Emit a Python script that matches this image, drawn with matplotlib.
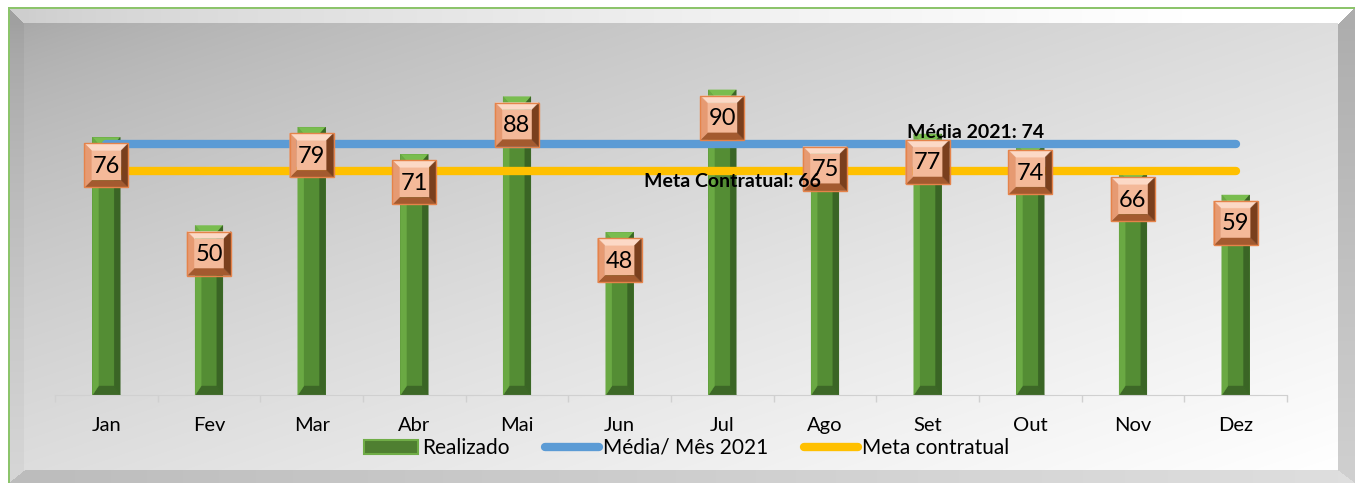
import numpy as np
import matplotlib.pyplot as plt
from matplotlib.patches import Polygon, Patch
from matplotlib.lines import Line2D
from matplotlib.transforms import IdentityTransform

# dados
meses = ["Jan", "Fev", "Mar", "Abr", "Mai", "Jun", "Jul", "Ago", "Set", "Out", "Nov", "Dez"]
realizado = [76, 50, 79, 71, 88, 48, 90, 75, 77, 74, 66, 59]
media_2021 = [74] * 12
meta_contratual = [66] * 12

plt.rcParams['font.family'] = ['Lato', 'DejaVu Sans']

W, H = 1355, 483
fig = plt.figure(figsize=(W / 100, H / 100), dpi=100)
fig.patch.set_facecolor('white')

# fundo com moldura em relevo
yy, xx = np.mgrid[0:H, 0:W].astype(float)
ox0, oy0, ox1, oy1 = 8, 7, W, H
ix0, iy0, ix1, iy1 = 24, 23, 1338, 470
u = np.clip((xx - ix0) / (ix1 - ix0), 0, 1)
v = np.clip((yy - iy0) / (iy1 - iy0), 0, 1)
g = 168 + 87 * ((u + v) / 2) ** 0.7
dt, dl, dr, db = yy - oy0, xx - ox0, (ox1 - xx) * 16 / 17, (oy1 - yy) * 16 / 13
inside_outer = (xx >= ox0) & (yy >= oy0)
inside_inner = (xx >= ix0) & (xx < ix1) & (yy >= iy0) & (yy < iy1)
ring = inside_outer & ~inside_inner
d = np.stack([dt, dl, dr, db])
side = np.argmin(d, axis=0)
shift = np.array([38, -8, -48, -33])
g = np.where(ring, g + shift[side], g)
g = np.where(inside_outer, g, 255)
g = np.clip(g, 0, 255) / 255
img = np.dstack([g, g, g])
green = np.array([0.55, 0.77, 0.42])
img[oy0:oy0 + 2, ox0:, :] = green
img[oy0:, ox0:ox0 + 2, :] = green
fig.figimage(img, xo=0, yo=0, origin='upper', zorder=-10)

ax = fig.add_axes([55 / W, (H - 395) / H, 1232 / W, 339 / H])
ax.patch.set_alpha(0)
x = np.arange(len(meses))
bw = 0.27
ax.set_xlim(-0.5, 11.5)
ax.set_ylim(0, 100)

ax.bar(x, realizado, width=bw, color='#548d34', zorder=2)


def bevel(x0, y0, x1, y1, b, face, top, left, right, bottom, z, tb=None, bb=None):
    tb = b if tb is None else tb
    bb = b if bb is None else bb
    BL, BR, TR, TL = (x0, y0), (x1, y0), (x1, y1), (x0, y1)
    bl, br, tr, tl = (x0 + b, y0 + bb), (x1 - b, y0 + bb), (x1 - b, y1 - tb), (x0 + b, y1 - tb)
    parts = [([bl, br, tr, tl], face), ([TL, TR, tr, tl], top), ([BL, BR, br, bl], bottom),
             ([BL, TL, tl, bl], left), ([BR, TR, tr, br], right)]
    for pts, c in parts:
        ax.add_patch(Polygon(pts, closed=True, facecolor=c, edgecolor=c, lw=0.3,
                             transform=IdentityTransform(), zorder=z, clip_on=False))


# relevo das barras
for i, val in zip(x, realizado):
    x0, y0 = ax.transData.transform((i - bw / 2, 0))
    x1, y1 = ax.transData.transform((i + bw / 2, val))
    bevel(x0, y0, x1, y1, 6, '#548d34', '#79bd4f', '#6aa943', '#3a6525', '#3d6827', 2.5, tb=7, bb=9)

# linhas de média e meta
ax.plot(x, media_2021, color='#5b9bd5', lw=6, solid_capstyle='round', zorder=4)
ax.plot(x, meta_contratual, color='#ffc000', lw=6, solid_capstyle='round', zorder=4)

# rótulos das barras
for i, val in zip(x, realizado):
    cx, ty = ax.transData.transform((i, val))
    cy = ty - 28
    bevel(cx - 22, cy - 22, cx + 22, cy + 22, 7, '#f4b999', '#fcd9c6', '#e69a72',
          '#7a3f1d', '#a35a2f', 5)
    ax.add_patch(Polygon([(cx - 22, cy - 22), (cx + 22, cy - 22), (cx + 22, cy + 22), (cx - 22, cy + 22)],
                         closed=True, fill=False, edgecolor='#e5834a', lw=1,
                         transform=IdentityTransform(), zorder=5.5, clip_on=False))
    ax.text(cx, cy - 1, str(val), transform=IdentityTransform(), ha='center', va='center',
            fontsize=17, color='black', zorder=6)

ax.text(8.47, 77.3, "Média 2021: 74", ha='center', va='center', fontsize=14,
        fontweight='bold', color='black', zorder=7)
ax.text(6.1, 63.1, "Meta Contratual: 66", ha='center', va='center', fontsize=14,
        fontweight='bold', color='black', zorder=7)

# eixos
for s in ['top', 'left', 'right']:
    ax.spines[s].set_visible(False)
ax.spines['bottom'].set_color('#d0d0d0')
ax.set_yticks([])
ax.set_xticks(x)
ax.set_xticklabels(meses, fontsize=14.5, color='black')
ax.tick_params(axis='x', which='major', length=0, pad=16)
ax.set_xticks(np.arange(-0.5, 12, 1), minor=True)
ax.tick_params(axis='x', which='minor', length=5, color='#d0d0d0', width=1)

handles = [Patch(facecolor='#4f7f31', edgecolor='#70ad47', lw=1.5),
           Line2D([0], [0], color='#5b9bd5', lw=6, solid_capstyle='round'),
           Line2D([0], [0], color='#ffc000', lw=6, solid_capstyle='round')]
fig.legend(handles, ["Realizado", "Média/ Mês 2021", "Meta contratual"], loc='center',
           bbox_to_anchor=(686.5 / W, 1 - 448 / H), ncol=3, frameon=False, fontsize=15,
           handlelength=2.6, handletextpad=0.2, columnspacing=1.7, handleheight=0.65)

fig.savefig('out.png', dpi=100)
